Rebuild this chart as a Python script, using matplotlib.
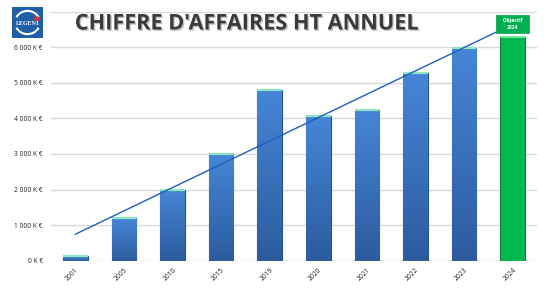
import numpy as np
import matplotlib
matplotlib.use("Agg")
import matplotlib.pyplot as plt
from matplotlib.patches import Arc, Circle, Rectangle
import matplotlib.patheffects as pe

# data (K EUR)
years = ["2001", "2005", "2010", "2015", "2019", "2020", "2021", "2022", "2023", "2024"]
revenue = [120, 1200, 2000, 3000, 4800, 4060, 4230, 5260, 5970, 6290]
target_year = "2024"
y_ticks = [0, 1000, 2000, 3000, 4000, 5000, 6000, 7000]

plt.rcParams['font.family'] = ['Open Sans', 'DejaVu Sans']

fig = plt.figure(figsize=(5.48, 2.91), dpi=100)
ax = fig.add_axes([51 / 548, 1 - 260.7 / 291, 486 / 548, 249.2 / 291])

x = np.arange(len(years))
colors = ['#00b850' if y == target_year else '#3b78c8' for y in years]
bars = ax.bar(x, revenue, width=0.51, color=colors, edgecolor='#24558a',
              linewidth=0.8, zorder=3)

# vertical gradient on the blue bars
grad = np.linspace(0, 1, 64).reshape(-1, 1)
blue_cmap = matplotlib.colors.LinearSegmentedColormap.from_list('b', ['#2c5c9e', '#4685d6'])
for b, y in zip(bars, years):
    if y == target_year:
        b.set_edgecolor('#1d7a3e')
        continue
    x0, w, h = b.get_x(), b.get_width(), b.get_height()
    im = ax.imshow(grad, cmap=blue_cmap, aspect='auto', origin='lower',
                   extent=(x0, x0 + w, 0, h), zorder=3.5)
    im.set_clip_path(b)

# light top caps
for xi, v, y in zip(x, revenue, years):
    cap = '#6fe89a' if y == target_year else '#8fe6c4'
    ax.plot([xi - 0.255, xi + 0.255], [v, v], color=cap, lw=1.6, zorder=4,
            solid_capstyle='butt')

# linear trend line
slope, icpt = np.polyfit(x, revenue, 1)
ax.plot([x[0], x[-1]], [icpt, icpt + slope * x[-1]], color='#1f5fbf', lw=1.0, zorder=5)

# target label
ti = years.index(target_year)
ax.text(ti, revenue[ti] + 370, '   Objectif   \n2024', ha='center', va='center',
        fontsize=3.6, fontweight='bold', color='white', linespacing=1.5, zorder=6,
        bbox=dict(boxstyle='square,pad=0.6', fc='#00b050', ec='#00a048', lw=0.5))

ax.set_xlim(-0.5, len(years) - 0.5)
ax.set_ylim(0, 7000)
ax.set_yticks(y_ticks)
ax.set_yticklabels([f"{v // 1000} 000 K €" if v else "0 K €" for v in y_ticks[:-1]] + [""],
                   fontsize=4.8, color='#222222')
ax.set_xticks(x)
ax.set_xticklabels(years, rotation=45, ha='right', rotation_mode='anchor',
                   fontsize=4.8, color='#222222')
ax.tick_params(axis='both', length=0, pad=6)
ax.tick_params(axis='x', pad=4)
ax.grid(axis='y', color='#d9d9d9', lw=1.0, zorder=0)
for s in ax.spines.values():
    s.set_visible(False)

fig.text(247 / 548, 1 - 24 / 291, "CHIFFRE D'AFFAIRES HT ANNUEL", ha='center', va='center',
         fontsize=15.6, fontweight='bold', color='#3a3a3a',
         path_effects=[pe.withSimplePatchShadow(offset=(1, -1), shadow_rgbFace='#9a9a9a', alpha=0.6)])

# logo
lg = fig.add_axes([12 / 548, 1 - 38 / 291, 31 / 548, 31 / 291])
lg.set_xlim(0, 1)
lg.set_ylim(0, 1)
lg.axis('off')
lg.add_patch(Rectangle((0, 0), 1, 1, color='#1f5fa8'))
lg.add_patch(Arc((0.5, 0.5), 0.8, 0.75, theta1=25, theta2=155, color='white', lw=1.5))
lg.add_patch(Arc((0.5, 0.5), 0.8, 0.75, theta1=205, theta2=335, color='white', lw=1.5))
lg.add_patch(Circle((0.8, 0.62), 0.06, color='#e03030'))
lg.text(0.5, 0.48, 'LEGEN1', ha='center', va='center', color='white', fontsize=4.3,
        fontweight='bold', family=['Liberation Serif', 'DejaVu Serif'])

fig.savefig('out.png', dpi=100, facecolor='white')
